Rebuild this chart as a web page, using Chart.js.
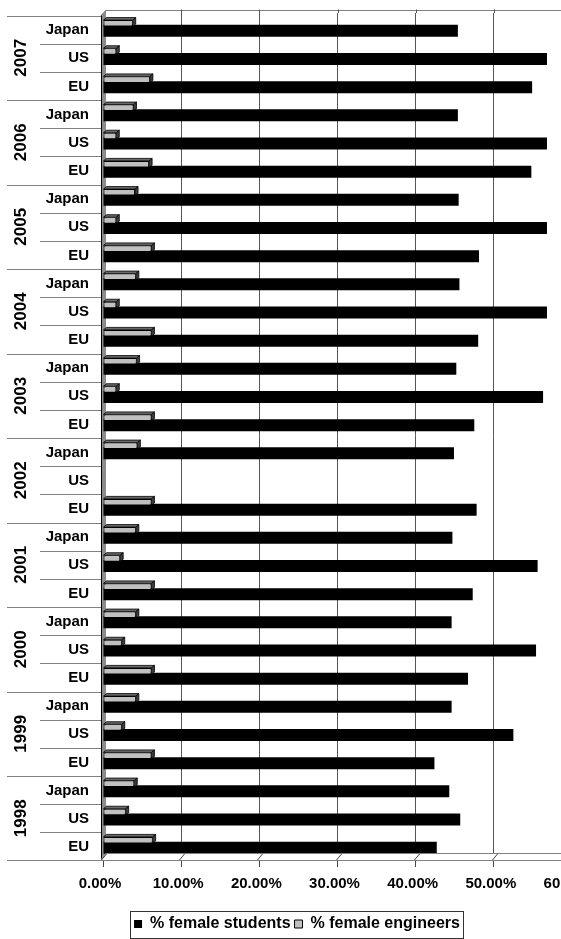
<!DOCTYPE html>
<html>
<head>
<meta charset="utf-8">
<script src="https://cdn.jsdelivr.net/npm/chart.js@4/dist/chart.umd.min.js"></script>
<style>
html, body { margin: 0; padding: 0; background: #fff; overflow: hidden; }
#wrap { width: 561px; height: 939px; overflow: hidden; position: relative; }
canvas { display: block; }
</style>
</head>
<body>
<div id="wrap"><canvas id="chart" width="594" height="942"></canvas></div>
<script>
// years bottom -> top, regions top -> bottom inside a year
var years = ['1998', '1999', '2000', '2001', '2002', '2003', '2004', '2005', '2006', '2007'];
var regions = ['Japan', 'US', 'EU'];

// % female students (per year, 1998..2007)
var studentsJapan = [44.3, 44.6, 44.6, 44.7, 44.9, 45.2, 45.6, 45.5, 45.4, 45.4];
var studentsUS    = [45.7, 52.5, 55.4, 55.6, null, 56.3, 56.8, 56.8, 56.8, 56.8];
var studentsEU    = [42.7, 42.4, 46.7, 47.3, 47.8, 47.5, 48.0, 48.1, 54.8, 54.9];

// % female engineers
var engineersJapan = [4.0, 4.2, 4.2, 4.2, 4.4, 4.3, 4.2, 4.1, 3.9, 3.8];
var engineersUS    = [2.9, 2.4, 2.4, 2.2, null, 1.7, 1.7, 1.7, 1.7, 1.7];
var engineersEU    = [6.35, 6.2, 6.2, 6.2, 6.2, 6.2, 6.2, 6.2, 5.9, 6.0];

var xMin = 0, xMax = 60, xStep = 10;

var FONT = "'Liberation Sans', Arial, sans-serif";

var students = { Japan: studentsJapan, US: studentsUS, EU: studentsEU };
var engineers = { Japan: engineersJapan, US: engineersUS, EU: engineersEU };

// rows top -> bottom
var rowLabels = [], rowStudents = [], rowEngineers = [];
for (var yi = years.length - 1; 0 <= yi; yi--) {
	for (var r = 0; r < regions.length; r++) {
		rowLabels.push(regions[r]);
		rowStudents.push(students[regions[r]][yi]);
		rowEngineers.push(engineers[regions[r]][yi]);
	}
}

var DX = 5, DY = 6, SHIFT = 2.5;

var frame3d = {
	id: 'frame3d',
	beforeDatasetsDraw: function(chart) {
		var ctx = chart.ctx, a = chart.chartArea, x = chart.scales.x;
		var fl = a.left - 2, ft = a.top + SHIFT, fb = a.bottom + 2;
		ctx.save();
		// side wall
		ctx.fillStyle = '#8c8c8c';
		ctx.beginPath();
		ctx.moveTo(fl, ft); ctx.lineTo(fl + DX, ft - DY); ctx.lineTo(fl + DX, fb - DY); ctx.lineTo(fl, fb);
		ctx.closePath(); ctx.fill();
		ctx.strokeStyle = '#000'; ctx.lineWidth = 1;
		ctx.beginPath(); ctx.moveTo(fl + 0.5, ft); ctx.lineTo(fl + 0.5, fb); ctx.stroke();
		// top edge of back wall
		ctx.strokeStyle = '#808080';
		ctx.beginPath();
		ctx.moveTo(fl, ft); ctx.lineTo(fl + DX, Math.round(ft - DY) + 0.5); ctx.lineTo(chart.width, Math.round(ft - DY) + 0.5);
		ctx.stroke();
		// grid lines up to the back wall top
		ctx.strokeStyle = '#555';
		x.ticks.forEach(function(t) {
			var px = Math.round(x.getPixelForValue(t.value)) + 0.5;
			if (px < a.left + 2) return;
			ctx.beginPath(); ctx.moveTo(px, ft - DY); ctx.lineTo(px, a.top); ctx.stroke();
		});
		ctx.restore();
	},
	afterDatasetsDraw: function(chart) {
		var ctx = chart.ctx, a = chart.chartArea, x = chart.scales.x;
		var fl = a.left - 2, fb = a.bottom + 2;
		ctx.save();
		// 3D faces of the grey bars
		var meta = chart.getDatasetMeta(0);
		meta.data.forEach(function(el) {
			var p = el.getProps(['x', 'y', 'base', 'height'], true);
			if (!isFinite(p.x) || p.x <= p.base + 0.5) return;
			var t = p.y - p.height / 2, b = p.y + p.height / 2;
			ctx.lineWidth = 0.8; ctx.strokeStyle = '#000';
			ctx.fillStyle = '#6a6a6a';
			ctx.beginPath();
			ctx.moveTo(p.base, t); ctx.lineTo(p.base + 3, t - 2.5); ctx.lineTo(p.x + 3, t - 2.5); ctx.lineTo(p.x, t);
			ctx.closePath(); ctx.fill(); ctx.stroke();
			ctx.fillStyle = '#3c3c3c';
			ctx.beginPath();
			ctx.moveTo(p.x, t); ctx.lineTo(p.x + 3, t - 2.5); ctx.lineTo(p.x + 3, b - 2.5); ctx.lineTo(p.x, b);
			ctx.closePath(); ctx.fill(); ctx.stroke();
		});
		// floor
		ctx.fillStyle = '#fff';
		ctx.beginPath();
		ctx.moveTo(fl, fb); ctx.lineTo(fl + DX, fb - DY); ctx.lineTo(chart.width, fb - DY); ctx.lineTo(chart.width, fb);
		ctx.closePath(); ctx.fill();
		ctx.fillStyle = '#8c8c8c';
		ctx.beginPath();
		ctx.moveTo(fl, fb); ctx.lineTo(fl + DX, fb - DY); ctx.lineTo(fl + DX, fb - DY - 1); ctx.lineTo(fl, fb - 1);
		ctx.closePath(); ctx.fill();
		ctx.strokeStyle = '#808080'; ctx.lineWidth = 1;
		ctx.beginPath();
		ctx.moveTo(fl + DX, Math.round(fb - DY) - 0.5); ctx.lineTo(chart.width, Math.round(fb - DY) - 0.5);
		ctx.moveTo(fl, Math.round(fb) + 0.5); ctx.lineTo(chart.width, Math.round(fb) + 0.5);
		ctx.stroke();
		ctx.strokeStyle = '#444';
		x.ticks.forEach(function(t) {
			var px = Math.round(x.getPixelForValue(t.value)) + 0.5;
			ctx.beginPath(); ctx.moveTo(px - 2, fb); ctx.lineTo(px + 3, fb - DY); ctx.stroke();
		});
		ctx.restore();
	},
	afterDraw: function(chart) {
		var ctx = chart.ctx, a = chart.chartArea, y = chart.scales.y;
		var fl = a.left - 2;
		var p0 = y.getPixelForValue(0), rowH = y.getPixelForValue(1) - p0;
		ctx.save();
		// category separators
		ctx.strokeStyle = '#808080'; ctx.lineWidth = 1;
		for (var k = 0; k <= rowLabels.length; k++) {
			var yy = Math.round(p0 - rowH / 2 + k * rowH + SHIFT) + 0.5;
			ctx.beginPath();
			ctx.moveTo(k % regions.length === 0 ? 7 : 40, yy); ctx.lineTo(fl, yy);
			ctx.stroke();
		}
		// year labels
		ctx.fillStyle = '#000';
		ctx.font = 'bold 17px ' + FONT;
		ctx.textAlign = 'center'; ctx.textBaseline = 'middle';
		for (var j = 0; j < years.length; j++) {
			var yc = y.getPixelForValue(j * regions.length + 1) + SHIFT;
			ctx.save();
			ctx.translate(21, yc);
			ctx.rotate(-Math.PI / 2);
			ctx.fillText(years[years.length - 1 - j], 0, 0);
			ctx.restore();
		}
		// legend frame
		var hb = chart.legend.legendHitBoxes;
		if (hb && hb.length) {
			var l = hb[0].left, rr = hb[0].left + hb[0].width;
			hb.forEach(function(h) { l = Math.min(l, h.left); rr = Math.max(rr, h.left + h.width); });
			var top = hb[0].top, bot = hb[0].top + hb[0].height;
			ctx.strokeStyle = '#333';
			ctx.strokeRect(Math.round(l - 4) + 0.5, Math.round(top - 5) + 0.5, Math.round(rr - l + 7), Math.round(bot - top + 11));
		}
		ctx.restore();
	}
};

new Chart(document.getElementById('chart').getContext('2d'), {
	type: 'bar',
	data: {
		labels: rowLabels,
		datasets: [
			{
				label: '% female engineers',
				data: rowEngineers,
				backgroundColor: '#c0c0c0',
				borderColor: '#000',
				borderWidth: 1,
				borderSkipped: false,
				categoryPercentage: 0.533,
				barPercentage: 0.87
			},
			{
				label: '% female students',
				data: rowStudents,
				backgroundColor: '#000',
				borderColor: '#000',
				borderWidth: 0,
				categoryPercentage: 0.533,
				barPercentage: 1.6
			}
		]
	},
	options: {
		indexAxis: 'y',
		responsive: false,
		animation: false,
		layout: { padding: { top: 13, left: 0, right: 0, bottom: 0 } },
		scales: {
			x: {
				min: xMin,
				max: xMax,
				border: { display: false },
				grid: { color: '#555', tickLength: 9, tickColor: '#444' },
				ticks: {
					stepSize: xStep,
					padding: 8,
					labelOffset: -3,
					color: '#000',
					font: { family: FONT, size: 15, weight: 'bold' },
					callback: function(v) { return v.toFixed(2) + '%'; }
				},
				afterFit: function(s) { s.height = 54; s.paddingRight = 22; s.paddingLeft = 0; }
			},
			y: {
				grid: { display: false, drawTicks: false },
				border: { display: false },
				ticks: {
					autoSkip: false,
					padding: 14,
					labelOffset: 3,
					color: '#000',
					font: { family: FONT, size: 15, weight: 'bold' }
				},
				afterFit: function(s) { s.width = 103; s.paddingTop = 0; s.paddingBottom = 0; }
			}
		},
		plugins: {
			legend: {
				position: 'bottom',
				reverse: true,
				labels: {
					boxWidth: 8,
					boxHeight: 8,
					padding: 4,
					color: '#000',
					font: { family: FONT, size: 16, weight: 'bold' }
				}
			},
			tooltip: { enabled: false }
		}
	},
	plugins: [frame3d]
});
</script>
</body>
</html>
